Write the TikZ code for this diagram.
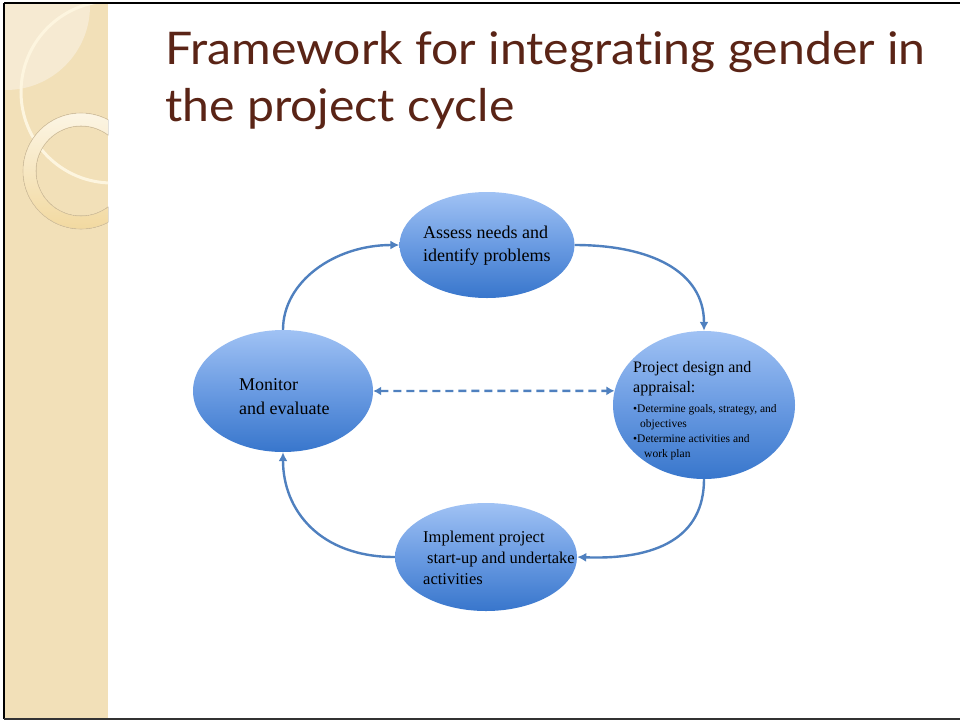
\documentclass[tikz,border=0pt]{standalone}
\usepackage{fontspec}
\setmainfont{Liberation Serif}
\newfontfamily\titlefont[FakeStretch=1.07,Ligatures=NoCommon]{Lato}
\usetikzlibrary{shapes.geometric,arrows.meta}
\definecolor{titlebrown}{HTML}{5A2416}
\definecolor{stripbeige}{HTML}{F2E0B8}
\definecolor{stripl}{HTML}{F6EAD2}
\definecolor{creamline}{HTML}{FDF5DF}
\definecolor{ringtop}{HTML}{FCF5E4}
\definecolor{ringbot}{HTML}{F2D9A0}
\definecolor{ringedge}{HTML}{D9C6A2}
\definecolor{elltop}{HTML}{A0C2F4}
\definecolor{ellmid}{HTML}{6A9BE2}
\definecolor{ellbot}{HTML}{3876CC}
\definecolor{arrowblue}{HTML}{4F80BF}
\tikzset{
  stage/.style={ellipse, draw=none, inner sep=0pt, top color=elltop, bottom color=ellbot, middle color=ellmid},
  flow/.style={draw=arrowblue, line width=2.4pt, -{Latex[length=9pt,width=9pt]}},
  both/.style={draw=arrowblue, line width=2.4pt, dash pattern=on 8pt off 5pt, {Latex[length=8pt,width=9pt]}-{Latex[length=8pt,width=9pt]}},
  label/.style={anchor=west, align=left, inner sep=0pt, text=black},
}
\begin{document}
\begin{tikzpicture}[x=1pt,y=-1pt]
\useasboundingbox (0,0) rectangle (960,721);
\fill[white] (0,0) rectangle (960,721);
% left decorative strip
\fill[stripbeige] (5,4) rectangle (108,718);
\begin{scope}
  \clip (5,4) rectangle (108,718);
  \fill[stripl] (6,6) circle[radius=84pt];
  \draw[creamline, line width=3pt] (112,92) circle[radius=91pt];
  \fill[top color=ringtop, bottom color=ringbot, even odd rule, draw=ringedge, line width=0.6pt]
     (81,171) circle[radius=58pt] (81,171) circle[radius=45pt];
\end{scope}
% frame lines
\draw[black, line width=2.5pt] (4,3) -- (960,3);
\draw[black, line width=2.5pt] (4,3) -- (4,719);
\draw[black!80, line width=2pt] (4,719) -- (960,719);
% title
\node[anchor=base west, inner sep=0pt, text=titlebrown, font=\titlefont\fontsize{45}{57}\selectfont] (t1) at (165,64) {Framework for integrating gender in};
\node[anchor=base west, inner sep=0pt, text=titlebrown, font=\titlefont\fontsize{45}{57}\selectfont] (t2) at (165,121) {the project cycle};
% stages
\node[stage, minimum width=175pt, minimum height=106pt] (ass) at (487,245) {};
\node[stage, minimum width=182pt, minimum height=148pt] (pro) at (704,405) {};
\node[stage, minimum width=182pt, minimum height=108pt] (imp) at (486,557) {};
\node[stage, minimum width=180pt, minimum height=122pt] (mon) at (283,391) {};
% labels
\node[label, font=\fontsize{18}{23}\selectfont] (ta) at (423,246) {Assess needs and\\identify problems};
\node[label, font=\fontsize{18}{24}\selectfont] (tm) at (239,397) {Monitor\\and evaluate};
\node[label, font=\fontsize{16}{20}\selectfont] (tp) at (633,379) {Project design and\\appraisal:};
\node[label, font=\fontsize{11.5}{15}\selectfont] (tb) at (633,432) {•Determine goals, strategy, and\\\hspace*{7pt}objectives\\•Determine activities and\\\hspace*{11pt}work plan};
\node[label, font=\fontsize{16.5}{21}\selectfont] (ti) at (423,558) {Implement project\\\hspace*{4pt}start-up and undertake\\activities};
% connectors
\draw[flow] (mon.north) .. controls +(0,-48) and +(-65,0) .. (ass.west);
\draw[flow] (ass.east) .. controls +(75,0) and +(0,-60) .. (pro.north);
\draw[flow] (pro.south) .. controls +(0,58) and +(80,3) .. (imp.east);
\draw[flow] (imp.west) .. controls +(-75,0) and +(0,58) .. (mon.south);
\draw[both] (mon.east) -- (pro.171);
\end{tikzpicture}
\end{document}
